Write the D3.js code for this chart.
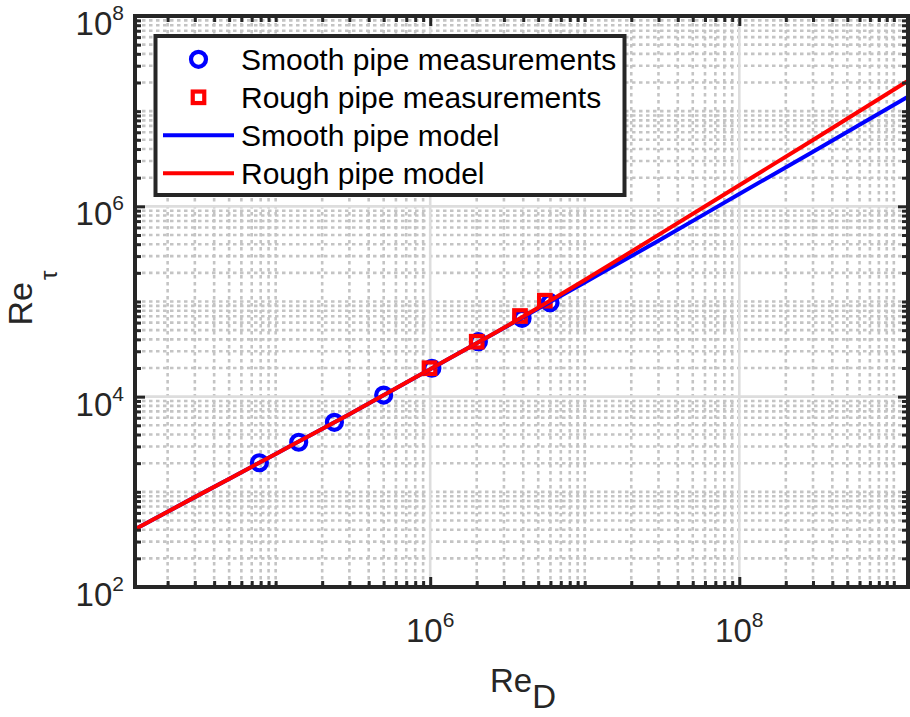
<!DOCTYPE html>
<html>
<head>
<meta charset="utf-8">
<script src="https://cdn.jsdelivr.net/npm/d3@7"></script>
<style>
  html, body { margin: 0; padding: 0; background: #fff; }
  svg { display: block; }
  text { font-family: "Liberation Sans", Arial, Helvetica, sans-serif; }
</style>
</head>
<body>
<svg id="chart" width="910" height="717"></svg>
<script>
// ---------------- data ----------------
const smoothRe    = [7.85e4, 1.41e5, 2.4e5, 5.0e5, 1.025e6, 2.05e6, 3.93e6, 5.96e6];
const smoothRetau = [2020, 3320, 5380, 10400, 19900, 37800, 66600, 97100];
const roughRe     = [0.99e6, 2.0e6, 3.81e6, 5.52e6];
const roughRetau  = [19900, 37800, 70400, 102000];

const modelRe     = [1.23e4, 3e4, 1e5, 3e5, 1e6, 3e6, 1e7, 3e7, 1e8, 3e8, 1.235e9];
const smoothModel = [404, 880, 2500, 6550, 19450, 52600, 158500, 435500, 1.349e6, 3.75e6, 1.42e7];
const roughModel  = [404, 880, 2500, 6550, 19450, 53000, 168000, 501000, 1.667e6, 4.98e6, 2.08e7];

const xMajorTicks = [1e6, 1e8];
const xTickLabels = ["6", "8"];
const yMajorTicks = [1e2, 1e4, 1e6, 1e8];
const yTickLabels = ["2", "4", "6", "8"];
const legendLabels = ["Smooth pipe measurements", "Rough pipe measurements", "Smooth pipe model", "Rough pipe model"];
const xDomain = [1.23e4, 1.235e9];
const yDomain = [1e2, 1e8];

// ---------------- layout ----------------
const svg = d3.select("#chart");
const L = 135, R = 908, T = 16, B = 587;
const axisColor = "#262626";
const blue = "#0000ff", red = "#ff0000";

svg.append("rect").attr("width", 910).attr("height", 717).attr("fill", "#fff");

const x = d3.scaleLog().domain(xDomain).range([L, R]);
const y = d3.scaleLog().domain(yDomain).range([B, T]);

function minorValues(domain, majors) {
  const out = [];
  const k0 = Math.floor(Math.log10(domain[0])), k1 = Math.ceil(Math.log10(domain[1]));
  for (let k = k0; k <= k1; k++) {
    for (let m = 1; m <= 9; m++) {
      const v = m * Math.pow(10, k);
      if (v >= domain[0] * 0.999 && v <= domain[1] * 1.001 && !majors.some(t => Math.abs(t - v) / v < 1e-9)) out.push(v);
    }
  }
  return out;
}
const xMinor = minorValues(xDomain, xMajorTicks);
const yMinor = minorValues(yDomain, yMajorTicks);

// ---------------- grid ----------------
const grid = svg.append("g");
grid.selectAll(".xmg").data(xMinor).join("line")
  .attr("x1", d => x(d)).attr("x2", d => x(d)).attr("y1", T).attr("y2", B)
  .attr("stroke", "#c4c4c4").attr("stroke-width", 2.6).attr("stroke-dasharray", "3.5,3.5");
grid.selectAll(".ymg").data(yMinor).join("line")
  .attr("y1", d => y(d)).attr("y2", d => y(d)).attr("x1", L).attr("x2", R)
  .attr("stroke", "#c4c4c4").attr("stroke-width", 2.6).attr("stroke-dasharray", "3.5,3.5");
grid.selectAll(".xMg").data(xMajorTicks).join("line")
  .attr("x1", d => x(d)).attr("x2", d => x(d)).attr("y1", T).attr("y2", B)
  .attr("stroke", "#dddddd").attr("stroke-width", 2.6);
grid.selectAll(".yMg").data(yMajorTicks).join("line")
  .attr("y1", d => y(d)).attr("y2", d => y(d)).attr("x1", L).attr("x2", R)
  .attr("stroke", "#dddddd").attr("stroke-width", 2.6);

// ---------------- data ----------------
svg.append("clipPath").attr("id", "clip").append("rect")
  .attr("x", L).attr("y", T).attr("width", R - L).attr("height", B - T);
const plot = svg.append("g").attr("clip-path", "url(#clip)");

const circR = 7.5, sq = 11.5, mw = 4.2;
plot.selectAll(".c").data(smoothRe.map((d, i) => [d, smoothRetau[i]])).join("circle")
  .attr("cx", d => x(d[0])).attr("cy", d => y(d[1])).attr("r", circR)
  .attr("fill", "none").attr("stroke", blue).attr("stroke-width", mw);
plot.selectAll(".s").data(roughRe.map((d, i) => [d, roughRetau[i]])).join("rect")
  .attr("x", d => x(d[0]) - sq / 2).attr("y", d => y(d[1]) - sq / 2)
  .attr("width", sq).attr("height", sq)
  .attr("fill", "none").attr("stroke", red).attr("stroke-width", mw);

const line = d3.line().x(d => x(d[0])).y(d => y(d[1])).curve(d3.curveMonotoneX);
plot.append("path").datum(modelRe.map((d, i) => [d, smoothModel[i]]))
  .attr("d", line).attr("fill", "none").attr("stroke", blue).attr("stroke-width", 4);
plot.append("path").datum(modelRe.map((d, i) => [d, roughModel[i]]))
  .attr("d", line).attr("fill", "none").attr("stroke", red).attr("stroke-width", 4);

// ---------------- axes (ticks via d3.axis) ----------------
function styleAxis(g) {
  g.select(".domain").remove();
  g.selectAll(".tick line").attr("stroke", axisColor).attr("stroke-width", 3);
  g.selectAll(".tick text").remove();
}
const majLen = 10, minLen = 6;
[[d3.axisBottom, B], [d3.axisTop, T]].forEach(([fn, pos]) => {
  svg.append("g").attr("transform", `translate(0,${pos})`)
    .call(fn(x).tickValues(xMajorTicks).tickSize(-majLen).tickFormat(""))
    .call(styleAxis);
  svg.append("g").attr("transform", `translate(0,${pos})`)
    .call(fn(x).tickValues(xMinor).tickSize(-minLen).tickFormat(""))
    .call(styleAxis);
});
[[d3.axisLeft, L], [d3.axisRight, R]].forEach(([fn, pos]) => {
  svg.append("g").attr("transform", `translate(${pos},0)`)
    .call(fn(y).tickValues(yMajorTicks).tickSize(-majLen).tickFormat(""))
    .call(styleAxis);
  svg.append("g").attr("transform", `translate(${pos},0)`)
    .call(fn(y).tickValues(yMinor).tickSize(-minLen).tickFormat(""))
    .call(styleAxis);
});

svg.append("rect").attr("x", L).attr("y", T).attr("width", R - L).attr("height", B - T)
  .attr("fill", "none").attr("stroke", axisColor).attr("stroke-width", 4);

// tick labels
const tl = svg.append("g").attr("fill", axisColor).attr("font-size", 33);
xMajorTicks.forEach((v, i) => {
  const t = tl.append("text").attr("x", x(v)).attr("y", 641.5).attr("text-anchor", "middle");
  t.append("tspan").text("10");
  t.append("tspan").attr("dy", -15).attr("font-size", 21).text(xTickLabels[i]);
});
yMajorTicks.forEach((v, i) => {
  const t = tl.append("text").attr("x", 124).attr("y", y(v) + 19).attr("text-anchor", "end");
  t.append("tspan").text("10");
  t.append("tspan").attr("dy", -15).attr("font-size", 21).text(yTickLabels[i]);
});

// axis labels
const xl = svg.append("text").attr("x", 523).attr("y", 691.5).attr("text-anchor", "middle")
  .attr("fill", axisColor).attr("font-size", 33);
xl.append("tspan").text("Re");
xl.append("tspan").attr("dy", 16).text("D");

const yl = svg.append("text").attr("transform", "translate(32,298) rotate(-90)")
  .attr("text-anchor", "middle").attr("fill", axisColor).attr("font-size", 34);
yl.append("tspan").text("Re");
yl.append("tspan").attr("dx", 2).attr("dy", 25).attr("font-size", 24).text("τ");

// ---------------- legend ----------------
const lg = svg.append("g");
lg.append("rect").attr("x", 155.5).attr("y", 36).attr("width", 469).attr("height", 159)
  .attr("fill", "#fff").attr("stroke", axisColor).attr("stroke-width", 4);
const rowY = i => 59.3 + i * 38;
lg.append("circle").attr("cx", 198.5).attr("cy", rowY(0)).attr("r", circR)
  .attr("fill", "none").attr("stroke", blue).attr("stroke-width", mw);
lg.append("rect").attr("x", 198.5 - sq / 2).attr("y", rowY(1) - sq / 2).attr("width", sq).attr("height", sq)
  .attr("fill", "none").attr("stroke", red).attr("stroke-width", mw);
lg.append("line").attr("x1", 163).attr("x2", 234).attr("y1", rowY(2)).attr("y2", rowY(2))
  .attr("stroke", blue).attr("stroke-width", 4);
lg.append("line").attr("x1", 163).attr("x2", 234).attr("y1", rowY(3)).attr("y2", rowY(3))
  .attr("stroke", red).attr("stroke-width", 4);
lg.selectAll(".lt").data(legendLabels).join("text")
  .attr("x", 241).attr("y", (d, i) => rowY(i) + 10.5)
  .attr("font-size", 30).attr("fill", "#000").text(d => d);
</script>
</body>
</html>
